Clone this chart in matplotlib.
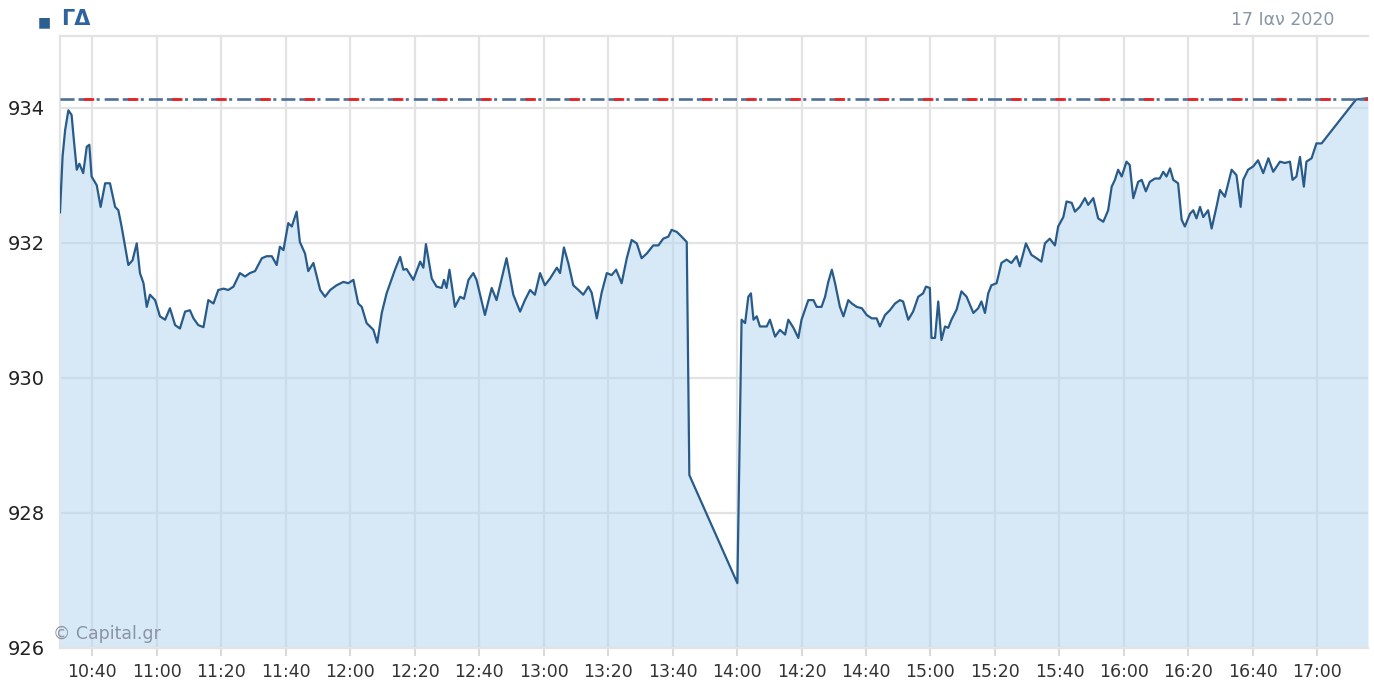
import pandas as pd
import matplotlib
matplotlib.use("Agg")
import matplotlib.pyplot as plt
import matplotlib.dates as mdates

plt.rcParams['lines.scale_dashes'] = False

# minutes after 10:30 and index level (ΓΔ, 17 Jan 2020)
minutes = [0, 0.8, 1.6, 2.6, 3.6, 4.3, 5.2, 6.0, 7.2, 8.3, 9.1, 9.8, 11.4, 12.6, 14.0, 15.5,
           17.1, 18.1, 19.1, 20.2, 21.2, 22.5, 23.8, 24.8, 25.9, 26.9, 27.9, 29.5, 31.0, 32.6,
           34.1, 35.7, 37.2, 38.8, 40.3, 41.4, 42.9, 44.5, 46.0, 47.6, 49.1, 50.7, 52.2, 53.8,
           55.8, 57.4, 58.9, 60.5, 62.6, 64.1, 65.7, 67.2, 68.2, 69.3, 70.8, 71.9, 73.4, 74.4,
           76.0, 77.0, 78.6, 80.7, 82.2, 83.8, 85.8, 87.9, 89.4, 91.0, 92.5,
           93.6, 95.1, 97.2, 98.4, 99.8, 101.3, 103.9, 105.5, 106.5, 107.5, 109.6, 111.7, 112.7,
           113.5, 115.3, 116.8, 118.4, 119.1, 119.9, 120.8, 122.5, 124.1, 125.3, 126.7, 128.2,
           129.2, 131.8, 133.9, 135.4, 137.0, 138.5, 140.6, 142.7, 144.2, 145.8, 147.3, 148.9,
           150.4, 152.0, 154.1, 155.1, 156.3, 157.7, 159.2, 160.8, 162.3, 163.9, 164.9, 166.5,
           168.0, 169.6, 171.1, 172.5, 174.2, 175.8, 177.3, 178.9, 180.4, 182.0, 184.0, 185.6,
           187.1, 188.7, 189.7, 191.3, 192.8, 194.4,
           195.2, 210.1,
           211.4, 212.5, 213.5, 214.3, 215.1, 216.1, 217.1, 219.2, 220.2, 221.8, 223.3, 224.9,
           225.9, 227.5, 229.0, 230.0, 232.1, 233.7, 234.7, 236.2, 237.3, 238.3, 239.4, 240.4,
           241.9, 243.0, 244.5, 245.6, 247.1, 248.7, 250.2, 251.8, 253.3, 254.3, 255.9, 257.4,
           259.0,
           260.5, 261.5, 263.1, 264.6, 266.2, 267.7, 268.6, 269.8, 270.3, 271.4, 272.4, 273.4,
           274.5, 275.5, 276.5, 278.1, 279.6, 281.2, 283.3, 284.8, 285.8, 286.9, 287.9, 288.9,
           290.5, 292.0, 293.6, 295.1, 296.7, 297.7, 299.6, 301.3, 302.9, 304.4, 305.5, 307.0,
           308.6, 309.6, 311.2, 312.2, 313.8, 314.8, 316.3, 317.9, 318.9, 320.5, 322.0, 323.6,
           325.1, 326.2, 327.2, 328.2, 329.3, 330.8, 331.8, 332.9, 334.4, 335.5, 336.8, 338.0,
           339.6, 341.1, 342.2, 343.2, 344.3, 345.3, 346.8, 347.9, 348.9, 350.5, 351.5, 352.5,
           353.6, 354.6, 356.1, 357.2, 358.7, 359.8, 361.3, 363.4, 364.9, 366.2, 367.0, 368.5,
           370.1, 371.6, 373.2, 374.8, 376.3, 378.4, 379.9, 381.5, 382.3, 383.5, 384.6, 385.8,
           386.6, 388.2, 389.7, 391.3, 402.0, 405.7]

prices = [932.45, 933.28, 933.67, 933.96, 933.89, 933.52, 933.08, 933.17, 933.03, 933.42,
          933.45, 932.98, 932.85, 932.53, 932.88, 932.88, 932.53, 932.48, 932.24, 931.94,
          931.67, 931.74, 931.99, 931.55, 931.40, 931.05, 931.23, 931.15, 930.91, 930.86,
          931.03, 930.78, 930.73, 930.98, 931.00, 930.88, 930.78, 930.75, 931.15, 931.10,
          931.30, 931.32, 931.30, 931.35, 931.55, 931.50, 931.55, 931.58, 931.77, 931.80,
          931.80, 931.67, 931.94, 931.89, 932.29, 932.24, 932.46, 932.01, 931.84, 931.58,
          931.70, 931.30, 931.20, 931.30, 931.37, 931.42, 931.40, 931.45, 931.10,
          931.05, 930.81, 930.71, 930.52, 930.96, 931.25, 931.60, 931.79, 931.60, 931.61,
          931.45, 931.72, 931.63, 931.98, 931.47, 931.35, 931.33, 931.45, 931.33, 931.60,
          931.05, 931.20, 931.17, 931.45, 931.55, 931.45, 930.93, 931.33, 931.15, 931.47,
          931.77, 931.23, 930.98, 931.15, 931.30, 931.23, 931.55, 931.37, 931.47, 931.63,
          931.55, 931.93, 931.69, 931.37, 931.30, 931.23, 931.35, 931.26, 930.88, 931.26,
          931.55, 931.52, 931.60, 931.40, 931.77, 932.04, 931.99, 931.77, 931.84, 931.96,
          931.96, 932.06, 932.09, 932.19, 932.16, 932.09, 932.01,
          928.56, 926.96,
          930.86, 930.81, 931.20, 931.25, 930.86, 930.91, 930.76, 930.76, 930.86, 930.61,
          930.71, 930.64, 930.86, 930.74, 930.59, 930.86, 931.15, 931.15, 931.05, 931.05,
          931.20, 931.42, 931.60, 931.40, 931.05, 930.91, 931.15, 931.10, 931.05, 931.03,
          930.93, 930.88, 930.88, 930.76, 930.93, 931.00, 931.10,
          931.15, 931.13, 930.86, 930.98, 931.20, 931.25, 931.35, 931.33, 930.59, 930.59,
          931.13, 930.56, 930.76, 930.74, 930.86, 931.01, 931.28, 931.20, 930.96, 931.03,
          931.13, 930.96, 931.25, 931.37, 931.40, 931.70, 931.75, 931.70, 931.80, 931.65,
          931.99, 931.82, 931.77, 931.72, 931.99, 932.06, 931.96, 932.24, 932.38, 932.61,
          932.59, 932.46, 932.53, 932.66, 932.56, 932.66, 932.36, 932.31, 932.48, 932.83,
          932.93, 933.08, 932.98, 933.20, 933.15, 932.66, 932.90, 932.93, 932.76, 932.90,
          932.95, 932.95, 933.05, 932.98, 933.10, 932.93, 932.88, 932.34, 932.24, 932.43,
          932.48, 932.36, 932.53, 932.38, 932.48, 932.21, 932.53, 932.78, 932.68, 933.08,
          933.00, 932.53, 932.93, 933.08, 933.13, 933.22, 933.03, 933.25, 933.05, 933.20,
          933.18, 933.20, 932.93, 932.98, 933.27, 932.83, 933.20, 933.25, 933.47, 933.47,
          934.12, 934.14]

prev_close = 934.13
y_ticks = [926, 928, 930, 932, 934]
y_min, y_max = 926, 935.06

times = pd.Timestamp("2020-01-17 10:30") + pd.to_timedelta(minutes, unit="min")

fig = plt.figure(figsize=(13.74, 6.84), dpi=100)
ax = fig.add_axes([60 / 1374, 36 / 684, 1308 / 1374, 612 / 684])

grid_col = '#e3e3e3'
ax.set_axisbelow(True)
ax.grid(True, color=grid_col, linewidth=1.6)

ax.fill_between(times, prices, y_min, color='#b6d7f0', alpha=0.55, linewidth=0, zorder=2)
ax.plot(times, prices, color='#285b8a', linewidth=1.6, zorder=3)

# previous close: blue dash-dot with red overlay on every other dash
ax.axhline(prev_close, color='#4d6f98', linewidth=1.9,
           linestyle=(0, (10.1, 2.9, 10.1, 2.9, 2.2, 3.6)), zorder=4)
ax.axhline(prev_close, color='#f02020', linewidth=1.9,
           linestyle=(15.0, (7.5, 24.3)), solid_capstyle='butt', zorder=5)

ax.set_xlim(times[0], times[-1])
ax.set_ylim(y_min, y_max)
ax.set_yticks(y_ticks)
ax.xaxis.set_major_locator(mdates.MinuteLocator(byminute=[0, 20, 40]))
ax.xaxis.set_major_formatter(mdates.DateFormatter('%H:%M'))

for side in ['top', 'left', 'bottom']:
    ax.spines[side].set_color(grid_col)
    ax.spines[side].set_linewidth(1.6)
ax.spines['right'].set_visible(False)

ax.tick_params(axis='y', length=0, pad=11, labelsize=14, labelcolor='#222222')
ax.tick_params(axis='x', length=6, width=1.4, color='#d8d8d8', pad=5, labelsize=12.5, labelcolor='#333333')

fig.text(38 / 1374, 1 - 22 / 684, '■', color='#2b5f8f', fontsize=10, va='center', ha='left')
fig.text(61 / 1374, 1 - 19 / 684, 'ΓΔ', color='#2f63a0', fontsize=15, fontweight='bold', va='center', ha='left')
fig.text(1334 / 1374, 1 - 20 / 684, '17 Ιαν 2020', color='#8796a8', fontsize=12.5, va='center', ha='right')
fig.text(53 / 1374, 1 - 634 / 684, '© Capital.gr', color='#8a94a2', fontsize=12.5, va='center', ha='left', zorder=10)

fig.savefig('out.png', dpi=100)
